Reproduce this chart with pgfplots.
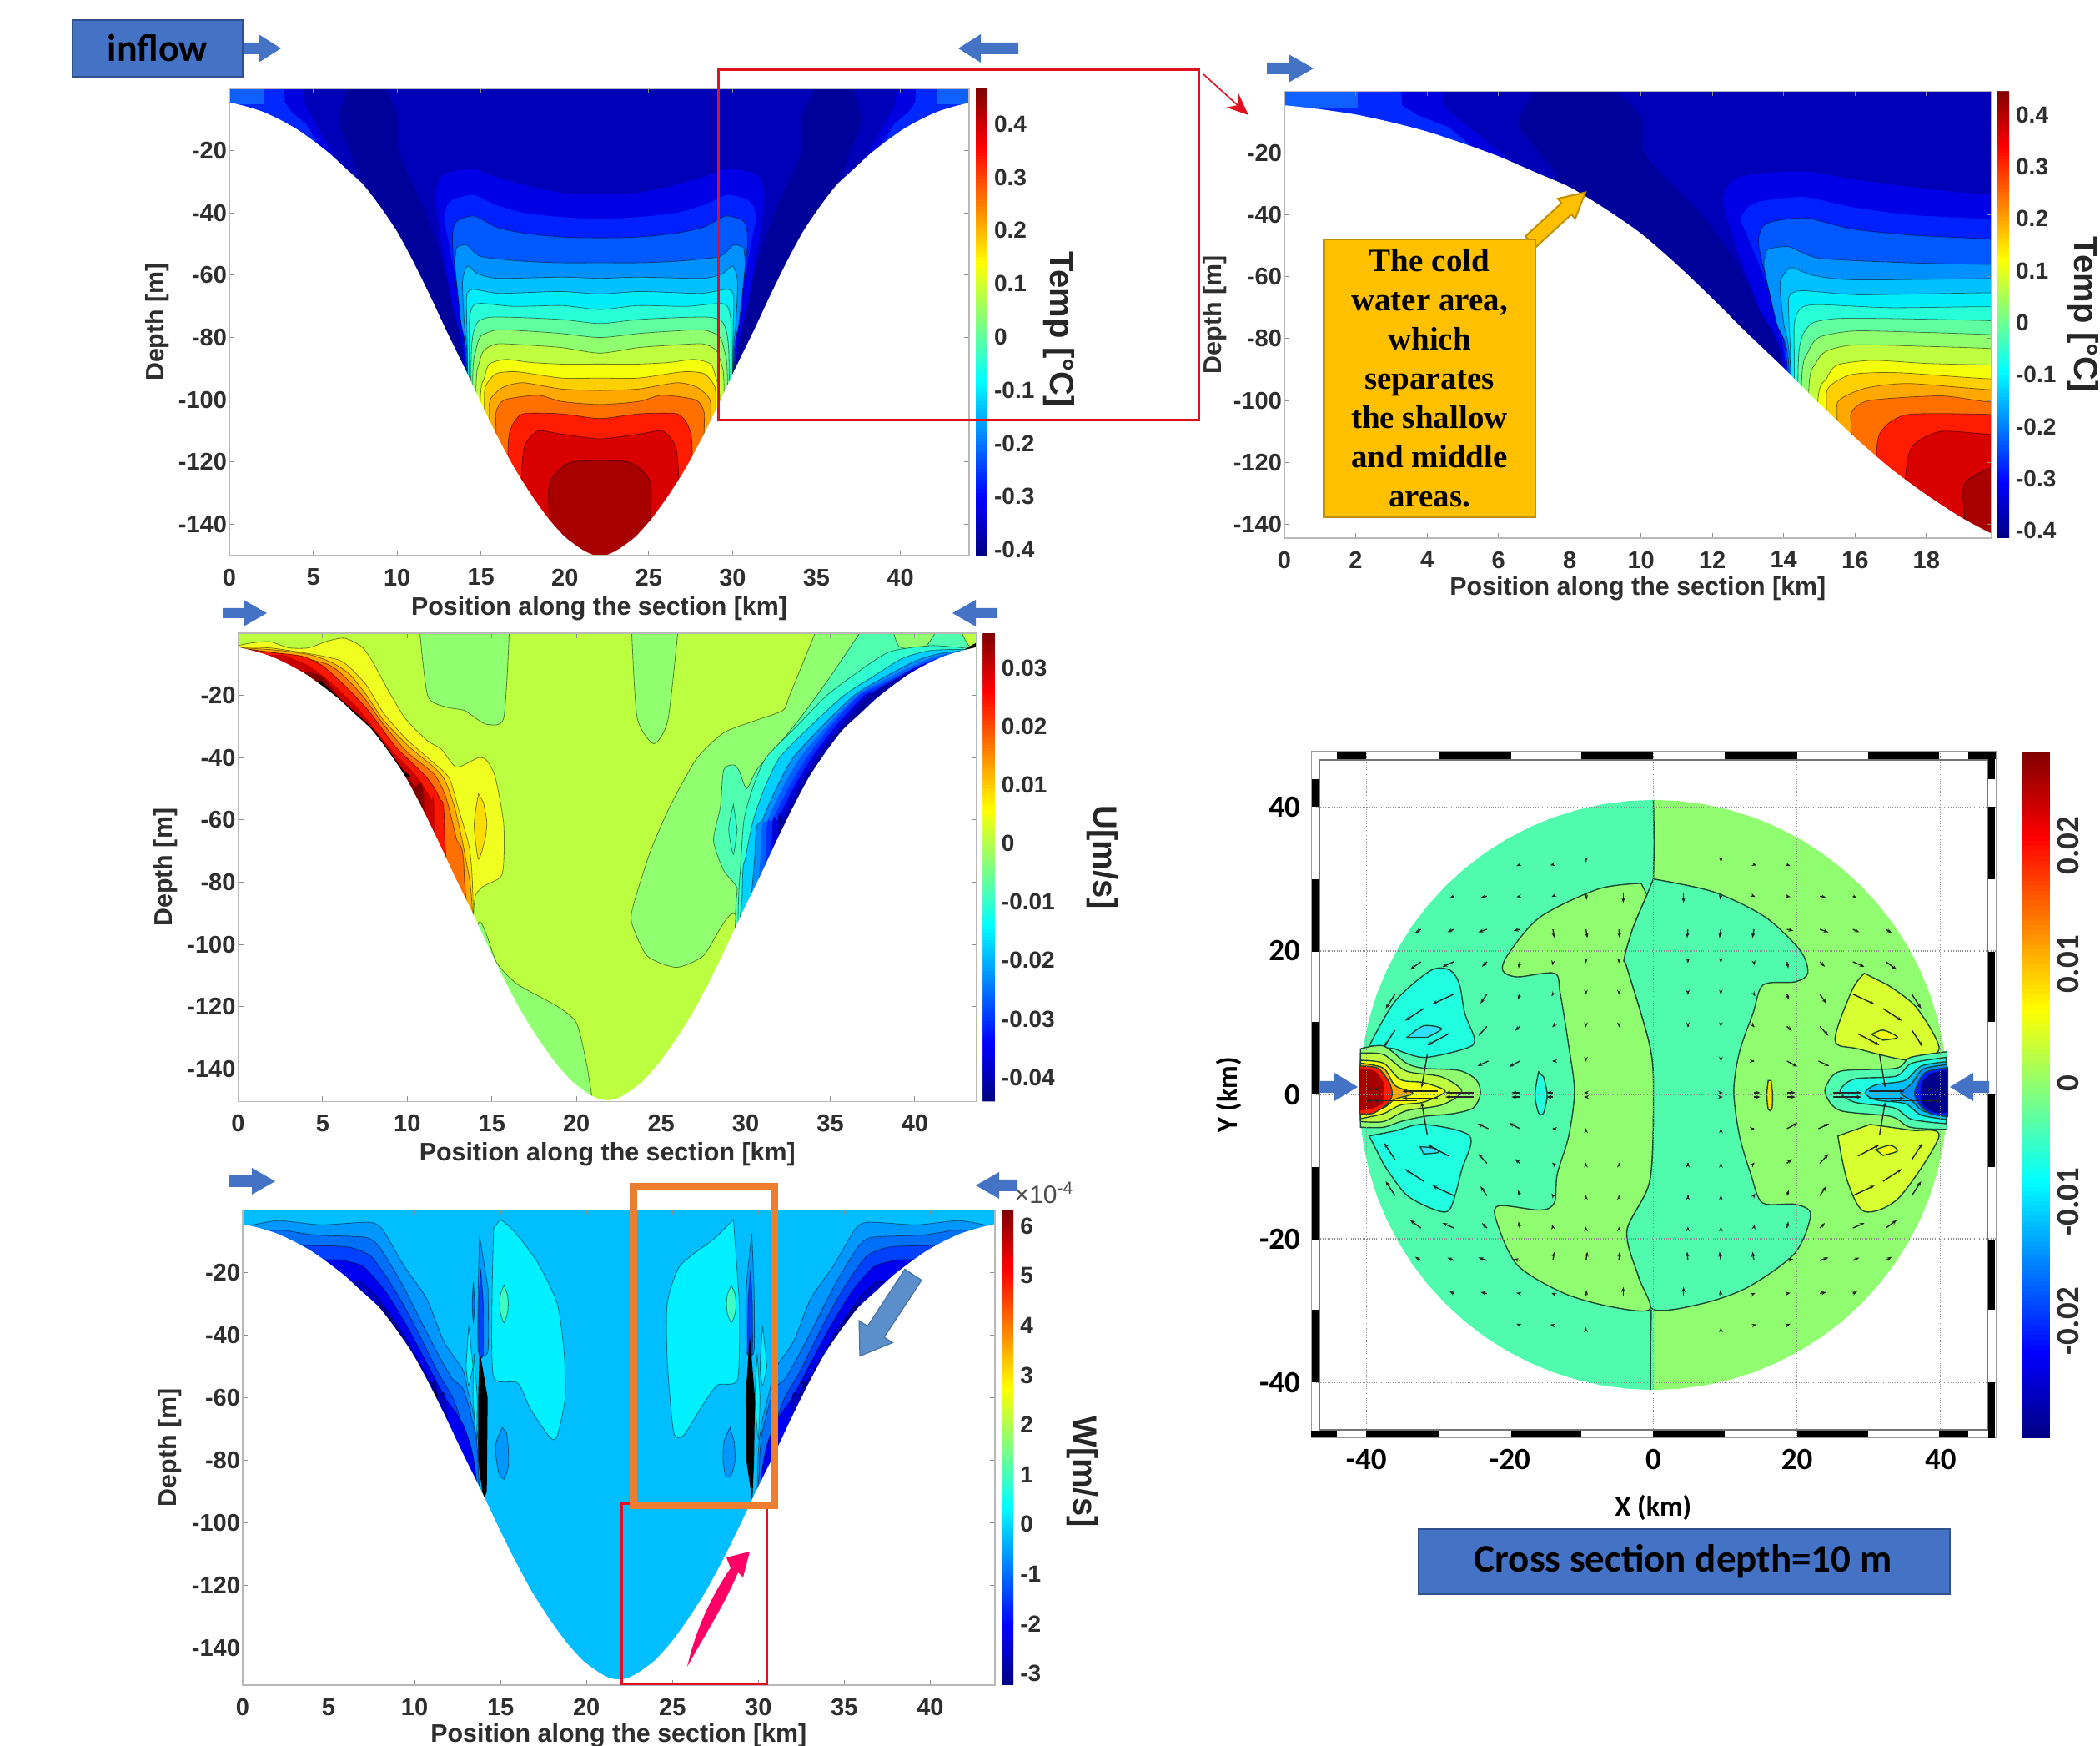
\documentclass[border=0pt]{standalone}
\usepackage{pgfplots}
\pgfplotsset{compat=1.18}
\usepackage{pgfplotstable}
\usepackage{fontspec}
\setmainfont{Liberation Sans}
\newfontfamily\calib{Carlito}
\newfontfamily\tms{Liberation Serif}
\usetikzlibrary{arrows.meta}
\newcommand\tk{\bfseries\fontsize{14.5}{16}\selectfont}
\newcommand\lb{\bfseries\fontsize{15.2}{17}\selectfont}
\newcommand\ct{\bfseries\fontsize{14}{15}\selectfont}
\newcommand\cb{\bfseries\fontsize{20}{22}\selectfont}
\newcommand\ek{\calib\bfseries\fontsize{18.5}{20}\selectfont}
\definecolor{t0}{HTML}{0000B8}\definecolor{td}{HTML}{00009A}
\definecolor{p1}{HTML}{1060FF}\definecolor{p2}{HTML}{0028FF}\definecolor{p3}{HTML}{0000E0}
\definecolor{t1}{HTML}{0000E6}\definecolor{t2}{HTML}{0020FF}\definecolor{t3}{HTML}{0058FF}
\definecolor{t4}{HTML}{0090FF}\definecolor{t5}{HTML}{00C0FF}\definecolor{t6}{HTML}{00ECF8}
\definecolor{t7}{HTML}{28FFD8}\definecolor{t8}{HTML}{60FFA0}\definecolor{t9}{HTML}{90FF70}
\definecolor{t10}{HTML}{C0FF40}\definecolor{t11}{HTML}{F4FF0C}\definecolor{t12}{HTML}{FFD000}
\definecolor{t13}{HTML}{FFA800}\definecolor{t14}{HTML}{FF7000}\definecolor{t15}{HTML}{FF1C00}
\definecolor{t17}{HTML}{D80000}\definecolor{t18}{HTML}{A80000}
\definecolor{ubase}{HTML}{BCFF40}\definecolor{ugreen}{HTML}{90FF70}\definecolor{uteal}{HTML}{50FFB0}
\definecolor{c1}{HTML}{30FFD0}\definecolor{c2}{HTML}{00D0FF}\definecolor{c3}{HTML}{0090FF}
\definecolor{c3b}{HTML}{0060FF}\definecolor{c4}{HTML}{0030FF}\definecolor{c4b}{HTML}{0000D8}\definecolor{c5}{HTML}{0000A0}
\definecolor{y1}{HTML}{F0FF20}\definecolor{y2}{HTML}{FFDC00}\definecolor{y3}{HTML}{FFAC00}
\definecolor{y4}{HTML}{FF7000}\definecolor{y5}{HTML}{F81800}\definecolor{y6}{HTML}{C80000}
\definecolor{y7}{HTML}{800000}
\definecolor{wb}{HTML}{00BEFF}\definecolor{w1}{HTML}{0098FF}\definecolor{w2}{HTML}{0070F8}
\definecolor{w3}{HTML}{0040FF}\definecolor{w4}{HTML}{0000F0}\definecolor{w5}{HTML}{0000C0}
\definecolor{w6}{HTML}{000090}\definecolor{wc}{HTML}{00F0FF}\definecolor{wg}{HTML}{40FFC0}
\definecolor{wt}{HTML}{20C8D0}
\definecolor{eteal}{HTML}{50FBAE}\definecolor{egreen}{HTML}{90FC70}\definecolor{ecy}{HTML}{20FFE0}
\definecolor{ecb}{HTML}{30E0FF}\definecolor{ely}{HTML}{D8FF30}\definecolor{eline}{HTML}{1A4A34}
\definecolor{boxblue}{HTML}{4472C4}\definecolor{boxedge}{HTML}{2F528F}
\definecolor{gold}{HTML}{FFC000}\definecolor{goldedge}{HTML}{BF9000}
\definecolor{rd}{HTML}{E01020}\definecolor{org}{HTML}{ED7D31}\definecolor{pinkr}{HTML}{FF0066}
\definecolor{steel}{HTML}{5A8FCB}

\pgfplotstableread{
x y
-1 -3.5
0 -4.5
1 -5.8
2 -7.5
3 -10
4 -13
5 -16.8
6 -21
7 -26
8 -31
9 -38
10 -46
11 -56
12 -67
13 -78.5
14 -89.5
15 -101
16 -112
17 -122
18 -130.5
19 -138
20 -144
21 -148
21.6 -149.6
22.1 -150
22.6 -149.6
23.2 -148
24.2 -144
25.2 -138
26.2 -130.5
27.2 -122
28.2 -112
29.2 -101
30.2 -89.5
31.2 -78.5
32.2 -67
33.2 -56
34.2 -46
35.2 -38
36.2 -31
37.2 -26
38.2 -21
39.2 -16.8
40.2 -13
41.2 -10
42.2 -7.5
43.2 -5.8
44.2 -4.5
45.2 -3.5
45.2 -175
-1 -175
}\bowl

\pgfplotstableread{
x y
0 41
3.57 40.84
7.12 40.38
10.61 39.6
14.02 38.53
17.33 37.16
20.5 35.51
23.52 33.59
26.35 31.41
28.99 28.99
31.41 26.35
33.59 23.52
35.51 20.5
37.16 17.33
38.53 14.02
39.6 10.61
40.38 7.12
40.84 3.57
41 0
40.84 -3.57
40.38 -7.12
39.6 -10.61
38.53 -14.02
37.16 -17.33
35.51 -20.5
33.59 -23.52
31.41 -26.35
28.99 -28.99
26.35 -31.41
23.52 -33.59
20.5 -35.51
17.33 -37.16
14.02 -38.53
10.61 -39.6
7.12 -40.38
3.57 -40.84
0 -41
}\halfcircle

\pgfplotstableread{
x y u v
-18.6 32 -.5 -.2
-14 32 -.4 -.1
-9.4 32.5 0 -.2
-27.8 27.6 -.6 -.3
-23.2 27.6 -.9 -.2
-18.6 27.6 -.5 -.1
-14 27.6 -.2 -.1
-9.4 28 .1 -.9
-4.2 28 0 -1.3
-32.4 23 -.8 -.5
-27.8 23 -.9 -.4
-23.2 23 -1.2 -.4
-18.6 23 -.9 -.2
-14 23 .2 -1.2
-9.4 23 .2 -1.2
-4.8 23 .1 -1.2
-32.4 18.5 -1.5 -1.1
-27.8 18.5 -1.6 -.7
-23.2 18.5 -.7 -.7
-18.6 18.5 -.2 -.9
-14 18.5 -.1 -.5
-9.4 18.5 0 -.2
-4.8 18.5 0 -.2
-36 14 -1.3 -2
-32 12 -2.6 -1.7
-27.8 14 -3 -1.4
-23.2 14 -.9 -1.3
-18.6 14 -.3 -.8
-14 14 -.2 -.3
-9.4 14 0 -.1
-4.8 14 0 -.1
-36 9 -1.5 -2.3
-28.5 8.5 -3 -1.6
-23.2 9.5 -1.2 -1.3
-18.6 9.5 -.7 -.6
-14 9.5 -.1 -.1
-9.4 9.5 0 -.1
-4.8 9.5 0 -.1
-31.5 5.6 -.8 -4.6
-23 4.7 -1.5 -.7
-18.6 4.7 -1.5 -.8
-14 4.7 -.1 0
-9.4 4.7 0 -.1
-25 .3 -4 0
-30 .5 -5 0
-33 .8 -6 0
-18.6 .3 -1.2 0
-14 .3 -.9 0
-37 .8 -3 0
-9.4 .3 -.3 0
}\quiv

\newcommand\lay[2]{\addplot[fill=#1,draw=black,draw opacity=.5,line width=.4pt,smooth,tension=.4] coordinates {#2} -- cycle;}
\newcommand\nol[2]{\addplot[fill=#1,draw=none,smooth,tension=.4] coordinates {#2} -- cycle;}
\newcommand\plain[2]{\addplot[fill=#1,draw=none] coordinates {#2} -- cycle;}
\newcommand\masked[1]{\addplot[fill=white,draw=none,smooth,tension=.4] table[x expr=\thisrow{x}*#1,y=y]{\bowl} -- cycle;}
\newcommand\elay[2]{\addplot[fill=#1,draw=eline,line width=.7pt,smooth,tension=.5] coordinates {#2} -- cycle;}

\newcommand\tempfield{%
\plain{t0}{(-1,1)(46,1)(46,-175)(-1,-175)}
\plain{p3}{(-1,1)(4.4,1)(4.5,-5)(5,-10)(6.5,-24)(3,-22)(-1,-10)}
\plain{p2}{(-1,1)(3.27,1)(3.3,-4.5)(3.73,-7.7)(4.6,-11.6)(5.5,-20)(-1,-20)}
\plain{p1}{(-1,1)(2.05,1)(2.05,-5.2)(-1,-5.2)}
\plain{p3}{(45.2,1)(39.8,1)(39.7,-5)(39.2,-10)(37.7,-24)(41.2,-22)(45.2,-10)}
\plain{p2}{(45.2,1)(40.93,1)(40.9,-4.5)(40.47,-7.7)(39.6,-11.6)(38.7,-20)(45.2,-20)}
\plain{p1}{(45.2,1)(42.15,1)(42.15,-5.2)(45.2,-5.2)}
\nol{td}{(7.07,1)(6.57,-9)(6.73,-14)(7.6,-26)(8.07,-35)(14,-95)(14,-86)(13.4,-71)(12.6,-54)(11.7,-40)(10.6,-27)(10.07,-19.4)(10,-8)(9.2,1)}
\nol{td}{(37.13,1)(37.63,-9)(37.47,-14)(36.6,-26)(36.13,-35)(30.2,-95)(30.2,-86)(30.8,-71)(31.6,-54)(32.5,-40)(33.6,-27)(34.13,-19.4)(34.2,-8)(35,1)}
\nol{t1}{(14,-175)(14,-90)(13.3,-70)(12.6,-48)(12.3,-35)(12.6,-28.5)(13.4,-26.5)(14.7,-26)(15.9,-28.4)(17.6,-31)(19.8,-33.5)(22.1,-34)(24.4,-33.5)(26.6,-31)(28.3,-28.4)(29.5,-26)(30.8,-26.5)(31.6,-28.5)(31.9,-35)(31.6,-48)(30.9,-70)(30.2,-90)(30.2,-175)}
\nol{t2}{(14.05,-175)(14.05,-90)(13.6,-65)(12.95,-46)(12.8,-41.3)(13,-37.5)(13.4,-35.5)(14.57,-34.2)(15.9,-37.4)(17.57,-40)(19.8,-41.3)(22.1,-42)(24.4,-41.3)(26.63,-40)(28.3,-37.4)(29.63,-34.2)(30.8,-35.5)(31.2,-37.5)(31.4,-41.3)(31.25,-46)(30.6,-65)(30.15,-90)(30.15,-175)}
\lay{t3}{(14.1,-175)(14.1,-90)(13.7,-70)(13.3,-50)(13.4,-44)(13.73,-42)(14.65,-41)(15.9,-44.5)(17.57,-46.5)(19.8,-47.7)(22.1,-48)(24.4,-47.7)(26.63,-46.5)(28.3,-44.5)(29.55,-41)(30.47,-42)(30.8,-44)(30.9,-50)(30.5,-70)(30.1,-90)(30.1,-175)}
\lay{t4}{(14.15,-175)(14.15,-90)(13.8,-75)(13.45,-57)(13.5,-53)(13.57,-51)(14.15,-50.3)(15,-54)(17.57,-55.5)(19.8,-56)(22.1,-56)(24.4,-56)(26.63,-55.5)(29.2,-54)(30.05,-50.3)(30.63,-51)(30.7,-53)(30.75,-57)(30.4,-75)(30.05,-90)(30.05,-175)}
\lay{t5}{(14.2,-175)(14.2,-92)(14,-75)(13.9,-62)(14.2,-57)(14.8,-59.5)(16,-61)(19.8,-60.6)(22.1,-61)(24.4,-60.6)(28.2,-61)(29.4,-59.5)(30,-57)(30.3,-62)(30.2,-75)(30,-92)(30,-175)}
\lay{t6}{(14.2,-175)(14.2,-92)(14.15,-75)(14.15,-66.5)(14.5,-64.5)(16,-65.8)(18,-65.5)(19.8,-65.2)(22.1,-66)(24.4,-65.2)(26.2,-65.5)(28.2,-65.8)(29.7,-64.5)(30.05,-66.5)(30.05,-75)(30,-92)(30,-175)}
\lay{t7}{(14.3,-175)(14.3,-92)(14.3,-75)(14.5,-70)(15,-69)(17,-70)(19.8,-69.7)(22.1,-71)(24.4,-69.7)(27.2,-70)(29.2,-69)(29.7,-70)(29.9,-75)(29.9,-92)(29.9,-175)}
\lay{t8}{(14.4,-175)(14.4,-93)(14.5,-80)(14.8,-75)(15.5,-73.5)(17,-73.5)(19.8,-74.2)(22.1,-75.5)(24.4,-74.2)(27.2,-73.5)(28.7,-73.5)(29.4,-75)(29.7,-80)(29.8,-93)(29.8,-175)}
\lay{t9}{(14.5,-175)(14.5,-95)(14.7,-84)(15,-79.5)(16,-77.5)(18,-78)(19.8,-78.7)(22.1,-80)(24.4,-78.7)(26.2,-78)(28.2,-77.5)(29.2,-79.5)(29.5,-84)(29.7,-95)(29.7,-175)}
\lay{t10}{(14.7,-175)(14.7,-98)(14.9,-88)(15.2,-84)(16,-82)(18,-82.5)(19.8,-83.2)(22.1,-85)(24.4,-83.2)(26.2,-82.5)(28.2,-82)(29,-84)(29.3,-88)(29.5,-98)(29.5,-175)}
\lay{t11}{(14.95,-175)(14.95,-102)(15.2,-93)(15.5,-88.5)(16.5,-87)(18,-88)(19.8,-88.5)(22.1,-88.5)(24.4,-88.5)(26.2,-88)(27.7,-87)(28.7,-88.5)(29,-93)(29.25,-102)(29.25,-175)}
\lay{t12}{(15.2,-175)(15.2,-105)(15.25,-96)(15.9,-91.6)(17.2,-91)(19.8,-93)(22.1,-93)(24.4,-93)(27,-91)(28.3,-91.6)(28.95,-96)(29,-105)(29,-175)}
\lay{t13}{(15.5,-175)(15.5,-108)(15.55,-100)(16.3,-96)(17.5,-94.5)(19.8,-96.5)(22.1,-97)(24.4,-96.5)(26.7,-94.5)(27.9,-96)(28.65,-100)(28.7,-108)(28.7,-175)}
\lay{t14}{(15.9,-175)(15.9,-113)(15.9,-104)(16.4,-100)(18.4,-98.5)(19.8,-100.5)(22.1,-101.5)(24.4,-100.5)(25.8,-98.5)(27.8,-100)(28.3,-104)(28.3,-113)(28.3,-175)}
\lay{t15}{(16.6,-175)(16.6,-118)(16.8,-109)(17.5,-104.5)(19.8,-104.5)(22.1,-106)(24.4,-104.5)(26.7,-104.5)(27.4,-109)(27.6,-118)(27.6,-175)}
\lay{t17}{(17.4,-175)(17.4,-128)(17.6,-115)(18.4,-110)(19.8,-111)(22.1,-112.5)(24.4,-111)(25.8,-110)(26.6,-115)(26.8,-128)(26.8,-175)}
\lay{t18}{(19,-175)(19,-142)(19.07,-138)(19.1,-126.4)(20.4,-120)(23.8,-120)(25.1,-126.4)(25.1,-138)(25.2,-142)(25.2,-175)}
\masked{1}
}

\pgfplotsset{
  sec/.style={scale only axis,anchor=south west,axis on top,xmin=0,ymax=0,
    colormap/jet,tick align=inside,major tick length=3pt,
    tick style={black!45,line width=.5pt},axis line style={black!28,line width=.9pt},
    ytick={-140,-120,-100,-80,-60,-40,-20},
    tick label style={font=\tk,text=black!82},
    /pgf/number format/assume math mode=true,
    xticklabel style={yshift=-4.5pt},yticklabel style={xshift=2pt},
    label style={font=\lb,text=black!82},
    xlabel={Position along the section [km]},ylabel={Depth [m]}},
  cbs/.style={at={(parent axis.north east)},anchor=north west,scale only axis,samples=140,
    axis line style={draw=none},major tick length=0pt,
    yticklabel style={font=\ct,text=black!82,xshift=.5pt},scaled y ticks=false}
}
\newcommand\block[6]{\fill[boxblue] (#1,{#3-#5}) -- ({#2-#6},{#3-#5}) -- ({#2-#6},{#3-#4}) -- (#2,#3) -- ({#2-#6},{#3+#4}) -- ({#2-#6},{#3+#5}) -- (#1,{#3+#5}) -- cycle;}

\begin{document}
\begin{tikzpicture}
\path[use as bounding box] (0,0) rectangle (1259pt,1046.5pt);

% Panel A
\begin{axis}[sec,at={(137.5pt,713.5pt)},width=443.5pt,height=280pt,xmax=44.1,ymin=-150,
  xtick={0,5,...,40},
  xlabel style={at={(axis description cs:0.5,-0.114)},anchor=center},
  ylabel style={at={(axis description cs:-0.097,0.5)},anchor=center},
  point meta min=-0.411,point meta max=0.467,colorbar sampled,
  colorbar style={cbs,xshift=-4.5pt,width=7pt,height=280pt,
    ytick={-0.4,-0.3,-0.2,-0.1,0,0.1,0.2,0.3,0.4},
    yticklabels={-0.4,-0.3,-0.2,-0.1,0,0.1,0.2,0.3,0.4}}]
\tempfield
\end{axis}

% Panel B
\begin{axis}[sec,at={(770pt,724pt)},width=423.8pt,height=267.75pt,xmax=19.82,ymin=-144.5,
  xtick={0,2,...,18},
  xlabel style={at={(axis description cs:0.5,-0.114)},anchor=center},
  ylabel style={at={(axis description cs:-0.098,0.5)},anchor=center},
  point meta min=-0.414,point meta max=0.445,colorbar sampled,
  colorbar style={cbs,xshift=-4.8pt,width=7pt,height=267.75pt,
    ytick={-0.4,-0.3,-0.2,-0.1,0,0.1,0.2,0.3,0.4},
    yticklabels={-0.4,-0.3,-0.2,-0.1,0,0.1,0.2,0.3,0.4}}]
\tempfield
\end{axis}

% Panel C
\begin{axis}[sec,at={(142.75pt,386.25pt)},width=442.75pt,height=280.75pt,xmax=43.65,ymin=-150.4,
  xtick={0,5,...,40},
  xlabel style={at={(axis description cs:0.5,-0.112)},anchor=center},
  ylabel style={at={(axis description cs:-0.098,0.5)},anchor=center},
  point meta min=-0.0441,point meta max=0.0359,colorbar sampled,
  colorbar style={cbs,xshift=-4.8pt,width=7.2pt,height=280.75pt,
    ytick={-0.04,-0.03,-0.02,-0.01,0,0.01,0.02,0.03},
    yticklabels={-0.04,-0.03,-0.02,-0.01,0,0.01,0.02,0.03}}]
\plain{ubase}{(-6,1)(50,1)(50,-175)(-6,-175)}
\lay{ugreen}{(10.73,1)(11.2,-20)(12.2,-23.6)(13.36,-24.8)(14.15,-27.7)(14.73,-29.3)(15.7,-27.2)(16.03,1)}
\lay{ugreen}{(23.26,1)(23.58,-27)(24.56,-35.5)(25.4,-28)(26,1)}
\lay{ugreen}{(34.18,1)(32.6,-20)(32.2,-24.8)(30.45,-28.3)(28.7,-32)(27.1,-40.3)(25.5,-55.9)(24.36,-70.2)(23.38,-87)(23.26,-93)(24.17,-103.6)(25.9,-107.3)(27.5,-103.6)(29.5,-92)(29.5,-175)(50,-175)(50,1)}
\lay{ugreen}{(21,-152)(20.6,-138.4)(20,-125.2)(18.86,-119.8)(16.5,-112.7)(15.3,-106)(14.15,-94.7)(14.15,-175)}
\lay{uteal}{(36.86,1)(35,-14)(33.4,-26)(32,-35.5)(30.65,-43.9)(30.06,-49.9)(29.6,-44)(29.27,-42.3)(28.7,-43.9)(28.5,-55.9)(28.1,-66.6)(28.7,-76.2)(29.5,-82)(29.4,-92)(29.4,-175)(50,-175)(50,1)}
\lay{ugreen}{(38.7,1)(39.1,-4.4)(40.5,-5)(41.3,1)}
\lay{ubase}{(42.7,1)(43.2,-4)(44,-4)(44,1)}
\lay{c1}{(29.27,-55)(29,-63)(29.27,-71)(29.5,-63)}
\lay{c1}{(43.3,-5)(41,-4)(38.5,-6)(36.5,-13)(34.8,-20)(33,-30)(31.2,-40)(30.4,-50)(29.9,-60)(29.7,-75)(29.55,-93)(29.55,-175)(50,-175)(50,-5)}
\lay{c2}{(43.3,-5.2)(41,-5.5)(39.3,-8)(37.5,-14)(35.8,-20)(33.8,-30)(32,-40)(31.1,-50)(30.45,-60)(30,-72)(29.8,-83)(29.8,-175)(50,-175)(50,-5.2)}
\lay{c3}{(43.3,-5.4)(41.5,-6.5)(40,-9)(37.9,-15)(36.4,-20)(34.5,-30)(32.8,-40)(31.8,-50)(31,-60)(30.55,-70)(30.55,-175)(50,-175)(50,-5.4)}
\nol{c3b}{(43.3,-5.5)(41.7,-6.8)(40.3,-9.3)(38,-15.5)(36.55,-20)(34.75,-30)(33.2,-40)(32.15,-50)(31.3,-60)(30.9,-69)(30.9,-175)(50,-175)(50,-5.5)}
\nol{c4}{(43.3,-5.5)(42,-7)(40.6,-9.5)(38.2,-16)(36.7,-20)(35,-30)(33.6,-40)(32.5,-50)(31.6,-60)(31.2,-68)(31.2,-175)(50,-175)(50,-5.5)}
\nol{c4b}{(41.5,-8.5)(40,-11)(37.9,-18)(37,-20)(35.3,-30)(33.9,-40)(32.8,-50)(31.9,-60)(31.55,-66)(31.55,-175)(50,-175)(50,-8)}
\nol{c5}{(41,-10)(39.5,-13)(37.25,-20)(35.6,-30)(34.2,-40)(33.1,-50)(32.2,-60)(31.9,-64)(31.9,-175)(50,-175)(50,-8)}
\lay{y1}{(0,-4)(.71,-3.2)(1.86,-2.7)(3,-4.7)(4.16,-4.7)(5.3,-2.5)(6.3,-1.6)(7.3,-4.3)(7.9,-8.7)(8.9,-18.6)(9.9,-27.5)(11.2,-34.6)(12,-37.2)(12.9,-43)(14.2,-40)(14.7,-40.9)(15.2,-46.3)(15.7,-61.4)(15.6,-77.5)(14.35,-82)(13.9,-91.8)(13.9,-175)(-6,-175)(-6,-4)}
\lay{y2}{(14.2,-51.6)(13.95,-61.4)(14.2,-72.6)(14.6,-66)(14.7,-60.5)(14.5,-54.3)}
\lay{y2}{(0,-4.4)(2,-4.8)(4.66,-7)(6,-8.7)(6.6,-11)(7.6,-16.8)(8.6,-25.7)(9.9,-33.8)(11.2,-40)(12.45,-46.3)(13,-56)(13.7,-70)(13.9,-91.8)(13.9,-175)(-6,-175)(-6,-4.4)}
\lay{y3}{(0,-4.6)(2.4,-5.5)(4.3,-7)(5.6,-9.6)(6.6,-13.2)(7.6,-20)(8.6,-28)(10.1,-36.4)(11.5,-42.7)(12.2,-47)(12.8,-56)(13.4,-71)(13.85,-91)(13.85,-175)(-6,-175)(-6,-4.6)}
\lay{y4}{(0,-4.7)(3,-7)(5.3,-10)(6.3,-14)(7.4,-20.4)(8.6,-29.3)(10,-38.2)(11.6,-45.4)(12.3,-53)(12.9,-66)(13.36,-77.5)(13.36,-175)(-6,-175)(-6,-4.7)}
\lay{y5}{(0,-4.8)(2,-6.2)(3.8,-7.4)(5,-10.5)(6.3,-16.8)(7.7,-24.8)(9.3,-36.4)(11.1,-46)(11.9,-53)(12.2,-64)(12.2,-175)(-6,-175)(-6,-4.8)}
\nol{y6}{(2.7,-7)(4.2,-10.5)(5.5,-15.9)(7.2,-24.8)(8.9,-36.4)(10.6,-46.3)(11.4,-53.4)(11.6,-60)(11.6,-175)(-6,-175)(-6,-7)}
\nol{y7}{(4.2,-12.5)(5,-14)(6,-20.8)(7.4,-29.3)(9,-39)(10.4,-49)(11,-56)(11,-175)(-6,-175)(-6,-12.5)}
\nol{black}{(4.8,-15)(6,-21)(8,-31)(9.6,-43)(9.9,-46)(3,-30)}
\plain{black}{(43,-5)(43.65,-3)(44,-6)(43,-8)}
\masked{0.9875}
\end{axis}

% Panel D
\begin{axis}[sec,at={(145.5pt,36.5pt)},width=450.85pt,height=284.75pt,xmax=43.75,ymin=-151.8,
  xtick={0,5,...,40},
  xlabel style={at={(axis description cs:0.5,-0.107)},anchor=center},
  ylabel style={at={(axis description cs:-0.097,0.5)},anchor=center},
  point meta min=-3.23,point meta max=6.32,colorbar sampled,
  colorbar style={cbs,xshift=-4.3pt,width=7pt,height=284.75pt,
    ytick={-3,-2,-1,0,1,2,3,4,5,6},yticklabels={-3,-2,-1,0,1,2,3,4,5,6}}]
\plain{wb}{(-6,1)(50,1)(50,-175)(-6,-175)}
\lay{w1}{(.6,-4.75)(2.13,-3.4)(4.56,-4.75)(7.3,-3.9)(8.1,-6)(9.4,-18)(10.7,-28.3)(11.7,-42)(12.8,-51)(13.1,-58)(13.6,-69.6)(13.8,-87)(13.8,-175)(-6,-175)(-6,-4.75)}
\lay{w2}{(2.46,-6.5)(4.24,-8)(7.15,-8.75)(7.96,-11.9)(9.25,-23.4)(10.4,-35.8)(11.5,-47.4)(12.2,-54)(12.8,-57)(13.3,-66)(13.7,-83)(13.7,-175)(-6,-175)(-6,-6.5)}
\lay{w3}{(4.3,-11.4)(6.2,-11.9)(7.5,-15)(8.9,-26)(10.06,-37.6)(11.35,-51.8)(12.2,-59.8)(12.65,-66.9)(12.7,-75)(13.6,-87)(13.6,-175)(-6,-175)(-6,-11.4)}
\lay{w4}{(5.6,-15.9)(7,-18)(8.3,-26)(9.6,-37.6)(10.9,-51)(11.85,-60.7)(12.9,-69.6)(13.6,-89)(13.6,-175)(-6,-175)(-6,-15.9)}
\lay{w5}{(6.9,-23)(7.8,-27.8)(9.1,-37.6)(10.4,-50)(11.35,-59)(11.85,-66)(11.85,-175)(-6,-175)(-6,-23)}
\lay{w6}{(8.1,-30.5)(9.25,-40.3)(10.2,-50)(10.9,-56.3)(11.3,-62)(11.3,-175)(-6,-175)(-6,-30.5)}
\lay{w1}{(43.15,-4.75)(41.62,-3.4)(39.19,-4.75)(36.45,-3.9)(35.65,-6)(34.35,-18)(33.05,-28.3)(32.05,-42)(30.95,-51)(30.65,-58)(30.15,-69.6)(29.95,-87)(29.95,-175)(50,-175)(50,-4.75)}
\lay{w2}{(41.29,-6.5)(39.51,-8)(36.6,-8.75)(35.79,-11.9)(34.5,-23.4)(33.35,-35.8)(32.25,-47.4)(31.55,-54)(30.95,-57)(30.45,-66)(30.05,-83)(30.05,-175)(50,-175)(50,-6.5)}
\lay{w3}{(39.45,-11.4)(37.55,-11.9)(36.25,-15)(34.85,-26)(33.69,-37.6)(32.4,-51.8)(31.55,-59.8)(31.1,-66.9)(31.05,-75)(30.15,-87)(30.15,-175)(50,-175)(50,-11.4)}
\lay{w4}{(38.15,-15.9)(36.75,-18)(35.45,-26)(34.15,-37.6)(32.85,-51)(31.9,-60.7)(30.85,-69.6)(30.15,-89)(30.15,-175)(50,-175)(50,-15.9)}
\lay{w5}{(36.85,-23)(35.95,-27.8)(34.65,-37.6)(33.35,-50)(32.4,-59)(31.9,-66)(31.9,-175)(50,-175)(50,-23)}
\lay{w6}{(35.65,-30.5)(34.5,-40.3)(33.55,-50)(32.85,-56.3)(32.45,-62)(32.45,-175)(50,-175)(50,-30.5)}
\lay{wc}{(15,-3)(15.8,-6.9)(17.14,-16.6)(18.3,-29.9)(18.7,-45.6)(18.76,-60)(18.3,-72.2)(17.9,-72.8)(16.75,-63.7)(16,-55.3)(14.6,-53.4)(14.5,-29.9)(14.6,-5.7)}
\lay{wc}{(28.55,-3)(27.4,-9.3)(25.45,-17.8)(24.7,-29.9)(24.7,-48)(25.07,-71)(25.65,-72)(26.6,-63.7)(27.6,-56)(28.8,-54)(28.9,-29.9)}
\lay{wg}{(15.2,-24)(15,-27)(14.95,-30)(15,-33)(15.2,-36)(15.4,-33)(15.45,-30)(15.4,-27)}
\lay{wg}{(28.43,-24)(28.2,-27)(28.15,-30)(28.2,-33)(28.43,-36)(28.65,-33)(28.7,-30)(28.65,-27)}
\lay{w1}{(15.1,-69.5)(14.75,-74)(14.72,-78)(14.9,-84)(15.2,-86)(15.45,-82)(15.45,-76)(15.35,-71)}
\lay{w1}{(28.35,-69.5)(28,-74)(27.95,-80)(28.1,-85)(28.4,-85)(28.65,-80)(28.6,-74)}
\lay{wc}{(13.15,-37)(13,-50)(13.15,-56)(13.4,-50)}
\lay{wc}{(30.25,-37)(30.1,-50)(30.25,-56)(30.5,-50)}
\lay{wc}{(13.46,-46)(13.4,-60)(13.6,-73)(13.65,-60)}
\lay{wc}{(29.94,-46)(29.8,-60)(30,-73)(30.1,-60)}
\lay{w2}{(13.42,-23)(13.35,-30)(13.42,-36)(13.5,-30)}
\lay{w1}{(13.78,-8.3)(13.7,-25)(13.7,-45)(14.27,-45)(14.27,-25)}
\lay{w1}{(29.62,-7.5)(29.3,-25)(29.3,-45)(29.75,-45)(29.75,-25)}
\lay{w3}{(13.85,-19)(13.72,-30)(13.75,-46)(14,-46)(14,-30)}
\lay{w3}{(29.55,-19)(29.4,-30)(29.4,-46)(29.65,-46)(29.65,-30)}
\plain{black}{(13.78,-44.7)(13.7,-60)(13.7,-80)(14,-93)(14.2,-90)(14.25,-60)}
\plain{black}{(29.5,-40)(29.25,-60)(29.3,-80)(29.65,-93)(29.75,-80)(29.8,-60)}
\masked{0.99}
\end{axis}

% Panel E
\begin{axis}[scale only axis,anchor=south west,at={(786pt,184.5pt)},width=410.5pt,height=411.5pt,
  axis on top,xmin=-47.7,xmax=47.7,ymin=-47.7,ymax=47.7,colormap/jet,
  xtick={-40,-20,0,20,40},ytick={-40,-20,0,20,40},major tick length=0pt,
  grid=major,grid style={black!45,densely dotted,line width=.6pt},
  axis line style={black!40,line width=.5pt},
  tick label style={font=\ek},/pgf/number format/assume math mode=true,
  xticklabel style={yshift=-3pt},yticklabel style={xshift=-3pt},
  label style={font=\calib\bfseries\fontsize{17}{19}\selectfont},
  xlabel={X (km)},ylabel={Y (km)},
  xlabel style={at={(axis description cs:0.5,-0.102)},anchor=center},
  ylabel style={at={(axis description cs:-0.12,0.5)},anchor=center},
  point meta min=-0.0289,point meta max=0.0289,colorbar sampled,
  colorbar style={cbs,xshift=7.5pt,width=16.75pt,height=411.5pt,
    ytick={-0.02,-0.01,0,0.01,0.02},yticklabels={-0.02,-0.01,0,0.01,0.02},
    yticklabel style={font=\calib\fontsize{19.5}{21}\selectfont\bfseries,rotate=90,anchor=north,xshift=7pt}}]
\addplot[fill=egreen,draw=none] table[x=x,y=y]{\halfcircle} -- cycle;
\addplot[fill=eteal,draw=none] table[x expr=-\thisrow{x},y=y]{\halfcircle} -- cycle;
\addplot[draw=eline,line width=.8pt] coordinates {(0,41)(0.1,35)(0,30)};
\addplot[draw=eline,line width=.8pt] coordinates {(-.4,-41)(-.4,-35)(-.3,-29.8)};
\elay{eteal}{(0,30)(8.4,28.2)(15.6,24.7)(20.5,20)(21.5,16.9)(19.7,15.7)(15.3,15.3)(13.9,11.4)(12,6)(11.2,.5)(12,-5.7)(13.6,-11.1)(15.2,-15)(19.7,-15.2)(21.9,-16.6)(19.7,-22)(13.2,-26.7)(6.8,-29)(0,-29.8)(-2.1,-25.2)(-3.7,-18.9)(-.5,-11.9)(0,0)(-.5,6.8)(-3.7,17.7)(-4.1,18.8)(-2.9,23.1)(-.9,27.8)}
\elay{egreen}{(-1.7,29.4)(-7.7,28.6)(-15.8,24.7)(-20.2,19.6)(-21,17.3)(-19,16.4)(-13.8,16.9)(-13,14.2)(-11.8,6.8)(-11,.5)(-11.8,-5.7)(-13.4,-11)(-13.8,-15)(-15.8,-16)(-21.5,-15.4)(-21.9,-17.4)(-19,-23.6)(-12.6,-27.5)(-6.1,-29.4)(-.5,-29.8)(-2.1,-25.2)(-3.7,-18.9)(-.5,-11.9)(0,0)(-.5,6.8)(-3.7,17.7)(-4.1,18.8)(-2.9,23.1)(-.9,27.8)}
\elay{ecy}{(-16,3.2)(-16.5,0)(-16,-2.5)(-15.3,-2.5)(-14.8,0)(-15.3,2.5)}
\elay{y2}{(16,2)(15.8,0)(16,-2)(16.5,-2)(16.6,0)(16.4,2)}
% left lobes
\elay{ecy}{(-39.6,6.8)(-36,13)(-31,17.3)(-28.3,17.3)(-27,15.3)(-26.3,11.4)(-24.9,7.6)(-26.3,6.4)(-32,5.2)(-36,6.4)}
\elay{ecy}{(-39.6,-5.7)(-36,-5)(-32,-4.1)(-25.6,-5.7)(-26.7,-10.4)(-28.3,-15.8)(-30.3,-16)(-34.4,-13.9)(-37.6,-9.6)}
\elay{ecb}{(-34.3,8)(-32,9.6)(-29.5,9.2)(-31.5,8)}
\elay{ecb}{(-32.5,-7.2)(-30.5,-7.4)(-30,-8)(-32,-8.2)}
% hot core
\elay{egreen}{(-40.8,6.4)(-37.6,6.8)(-34.4,4.4)(-32,3.7)(-27.1,3.4)(-24.7,2.1)(-24.1,.2)(-25.1,-1.8)(-27.9,-2.6)(-32,-3)(-35.2,-3.7)(-37.6,-4.5)(-40.8,-4.5)}
\elay{t10}{(-40.8,5.8)(-37.6,5.6)(-34.4,3.3)(-29.5,2.5)(-26.7,.5)(-29.5,-1.4)(-34.4,-2.2)(-37.6,-3.7)(-40.8,-3.7)}
\elay{t11}{(-40.8,4.8)(-37.6,4.4)(-35.2,2.1)(-32,1.7)(-29,.5)(-32,-1)(-35.2,-1.4)(-37.6,-2.6)(-40.8,-3.3)}
\elay{t13}{(-40.8,4.4)(-37.6,3.7)(-36,1.3)(-33.5,.2)(-36,-.6)(-37.6,-1.8)(-40.8,-2.6)}
\elay{t15}{(-40.9,4)(-38.4,3.7)(-36.8,1.7)(-36.4,0)(-37.2,-1.4)(-39.2,-2.6)(-40.9,-2.6)}
\nol{t18}{(-41,3.7)(-38.8,3.3)(-37.6,1.7)(-37.6,-1)(-39.2,-1.9)(-41,-2.2)}
% right lobes
\elay{ely}{(29.4,16.9)(27.7,14.6)(25.3,7.6)(28.5,6.4)(35.8,4.8)(39.8,6.4)(36.6,12.2)(32.6,15.3)}
\elay{ely}{(25.7,-5.7)(27,-11.9)(29.4,-16.2)(34.2,-14.3)(39.8,-5.7)(35.8,-4.9)(30.2,-4.1)}
\elay{t11}{(30.4,8.4)(32,9)(34,8)(32,7.6)}
\elay{t11}{(31,-7.6)(33,-7)(34,-7.8)(32,-8.4)}
\elay{uteal}{(40.9,6)(35.8,5.2)(33.8,3.7)(26.1,3.3)(24.1,1.3)(24.1,-.2)(26.1,-2.2)(33.1,-3)(35.8,-4.5)(40.9,-4.8)}
\elay{ecy}{(40.8,5.2)(36,4.4)(33.8,2.6)(28,2.2)(26,.5)(28,-1)(33.5,-1.8)(36,-3.4)(40.8,-4)}
\elay{t5}{(40.8,4.6)(37.3,4)(35,2)(31,1.4)(29.5,.3)(31,-.7)(35,-1.2)(37.3,-2.8)(40.8,-3.4)}
\elay{t4}{(40.9,4.2)(37.6,3.6)(36,1.6)(34.5,.2)(36,-.8)(37.5,-2.2)(40.9,-3)}
\elay{t2}{(41,3.8)(38,3.2)(36.8,1.5)(36.4,.1)(37,-1.3)(38.6,-2.6)(41,-3)}
\nol{w6}{(41,3.5)(38.7,3)(37.4,1.7)(37.2,0)(37.6,-1.5)(39,-2.4)(41,-2.5)}
% velocity arrows
\addplot[black!85,line width=.7pt,-{Stealth[length=3pt,width=2.2pt]},quiver={u=\thisrow{u},v=\thisrow{v}}] table[x=x,y=y]{\quiv};
\addplot[black!85,line width=.7pt,-{Stealth[length=3pt,width=2.2pt]},quiver={u=\thisrow{u},v=-\thisrow{v}}] table[x=x,y expr=-\thisrow{y}]{\quiv};
\addplot[black!85,line width=.7pt,-{Stealth[length=3pt,width=2.2pt]},quiver={u=-\thisrow{u},v=\thisrow{v}}] table[x expr=-\thisrow{x},y=y]{\quiv};
\addplot[black!85,line width=.7pt,-{Stealth[length=3pt,width=2.2pt]},quiver={u=-\thisrow{u},v=-\thisrow{v}}] table[x expr=-\thisrow{x},y expr=-\thisrow{y}]{\quiv};
\end{axis}

% annotations, in pixels of the reference
\begin{scope}[x=.5pt,y=-.5pt,shift={(0pt,1046.5pt)}]
\node[rotate=-90,font=\cb,text=black!85] at (1270,395) {Temp [°C]};
\node[rotate=-90,font=\cb,text=black!85] at (2498,377) {Temp [°C]};
\node[rotate=-90,font=\cb,text=black!85] at (1322,1028) {U[m/s]};
\node[rotate=-90,font=\cb,text=black!85] at (1298,1764) {W[m/s]};
\node[font=\fontsize{15}{17}\selectfont,text=black!70] at (1252,1430) {×10\textsuperscript{-4}};
% inflow box
\filldraw[fill=boxblue,draw=boxedge,line width=1pt] (87,24) rectangle (291,92);
\node[font=\calib\bfseries\fontsize{23}{25}\selectfont] at (189,58) {inflow};
% block arrows
\block{292}{337}{58}{17}{7}{27}
\block{1221}{1149}{58}{17}{7}{-27}
\block{1519}{1575}{82}{17}{7}{30}
\block{267}{320}{735}{16}{6}{28}
\block{1196}{1142}{735}{16}{6}{-28}
\block{275}{330}{1416}{16}{7}{28}
\block{1220}{1170}{1421}{16}{7}{-28}
\block{1574}{1628}{1303}{17}{7}{28}
\block{2385}{2338}{1303}{17}{7}{-28}
% red rectangle and arrow
\draw[rd,line width=1.5pt] (861,84) rectangle (1437,504);
\draw[rd,line width=.8pt,-{Stealth[length=13pt,width=11pt]}] (1443,89) -- (1497,138);
% orange arrow and call-out
\filldraw[fill=gold,draw=goldedge,line width=1pt] (1829.1,283.2) -- (1872.4,243.4) -- (1867.9,238.1) -- (1901,230.6) -- (1888.7,262.3) -- (1884.2,257) -- (1840.9,296.8) -- cycle;
\filldraw[fill=gold,draw=goldedge,line width=1.2pt] (1587.5,287) rectangle (1841,620);
\node[align=center,font=\tms\bfseries\fontsize{19.5}{23.5}\selectfont] at (1714,453.5) {The cold\\water area,\\which\\separates\\the shallow\\and middle\\areas.};
% panel D marks
\draw[rd,line width=1.5pt] (745.5,1803) rectangle (919,2019);
\draw[org,line width=4.5pt] (759,1423) rectangle (928,1805);
\fill[pinkr] (824,1998) .. controls (835,1950) and (855,1910) .. (876,1880) -- (871,1867) -- (899,1860) -- (891,1891) -- (885,1885) .. controls (868,1925) and (845,1960) .. (824,1998) -- cycle;
\filldraw[fill=steel,draw=steel!80!black,line width=.6pt] (1085,1521.4) -- (1040.2,1589.7) -- (1030.1,1583.2) -- (1031,1625.6) -- (1070.3,1609.5) -- (1060.2,1602.9) -- (1105,1534.6) -- cycle;
% map frame
\draw[black!55,line width=.6pt] (1582,911) rectangle (2383,1714);
\draw[black,line width=3.6pt] (1603,906) -- (1638,906) (1725,906) -- (1812,906) (1896,906) -- (1982,906) (2068,906) -- (2155,906) (2240,906) -- (2325,906) (2360,906) -- (2393,906);
\draw[black,line width=3.6pt] (1572,1719) -- (1603,1719) (1638,1719) -- (1725,1719) (1812,1719) -- (1896,1719) (1982,1719) -- (2068,1719) (2155,1719) -- (2240,1719) (2325,1719) -- (2360,1719);
\draw[black,line width=3.6pt] (1577,934) -- (1577,967) (1577,1054) -- (1577,1141) (1577,1225) -- (1577,1312) (1577,1399) -- (1577,1486) (1577,1570) -- (1577,1657);
\draw[black,line width=3.6pt] (2388,901) -- (2388,934) (2388,967) -- (2388,1054) (2388,1141) -- (2388,1225) (2388,1312) -- (2388,1399) (2388,1486) -- (2388,1570) (2388,1657) -- (2388,1724);
% caption box
\filldraw[fill=boxblue,draw=boxedge,line width=1pt] (1700.6,1833) rectangle (2337.7,1911.5);
\node[font=\calib\bfseries\fontsize{23.5}{25}\selectfont] at (2018,1872) {Cross section depth=10 m};
\end{scope}
\end{tikzpicture}
\end{document}
